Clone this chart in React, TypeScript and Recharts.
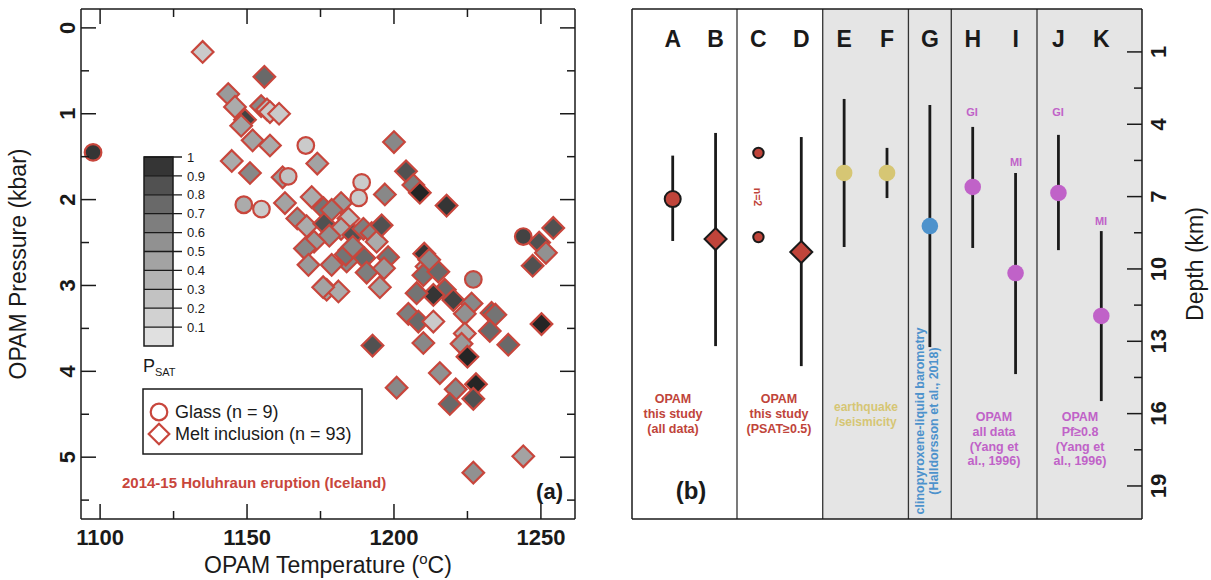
import React from "react";
import {
  ScatterChart,
  Scatter,
  XAxis,
  YAxis,
  ErrorBar,
  ReferenceArea,
  ReferenceLine,
} from "recharts";

const FONT = '"Liberation Sans", Arial, Helvetica, sans-serif';
const INK = "#1a1a1a";
const RED = "#c8463c";
const RED_FILL = "#c0443a";
const YELLOW = "#d6c674";
const BLUE = "#4d92cc";
const PURPLE = "#c062c8";
const PANEL_GRAY = "#e5e5e5";

// ---- panel (a): OPAM temperature vs pressure ----
const glassT = [1097.6, 1170.0, 1164.0, 1189.0, 1188.0, 1148.9, 1154.9, 1244.0, 1227.0];
const glassP = [1.45, 1.37, 1.73, 1.8, 1.98, 2.06, 2.11, 2.43, 2.93];
const glassPsat = [0.95, 0.2, 0.25, 0.2, 0.2, 0.4, 0.2, 0.9, 0.55];

const meltT = [
  1134.9, 1155.9, 1143.6, 1145.9, 1154.8, 1156.8, 1157.8, 1160.9, 1149.3, 1148.0,
  1151.9, 1157.8, 1200.0, 1144.8, 1151.0, 1173.9, 1162.1, 1204.1, 1206.6, 1208.8,
  1217.9, 1196.9, 1162.9, 1172.0, 1176.0, 1182.0, 1184.5, 1167.1, 1170.3, 1176.3,
  1182.0, 1178.0, 1186.2, 1189.6, 1192.4, 1194.1, 1195.8, 1172.8, 1169.7, 1184.8,
  1189.9, 1198.0, 1183.9, 1170.9, 1178.8, 1190.7, 1196.6, 1210.3, 1211.1, 1210.0,
  1215.1, 1217.3, 1213.4, 1207.7, 1220.2, 1249.4, 1254.2, 1251.7, 1247.2, 1195.2,
  1177.1, 1181.1, 1226.4, 1224.1, 1233.2, 1234.5, 1204.9, 1208.3, 1213.4, 1224.1,
  1232.6, 1250.2, 1210.0, 1192.7, 1223.0, 1238.9, 1225.0, 1215.6, 1200.9, 1221.0,
  1227.9, 1227.0, 1219.0, 1244.0, 1227.0, 1175.9, 1183.6, 1186.0, 1212.0, 1178.8,
];
const meltP = [
  0.28, 0.57, 0.77, 0.92, 0.91, 0.95, 0.98, 1.0, 1.07, 1.14,
  1.31, 1.37, 1.33, 1.55, 1.69, 1.58, 1.74, 1.67, 1.83, 1.92,
  2.07, 1.94, 2.04, 1.97, 2.1, 2.04, 2.22, 2.22, 2.31, 2.28,
  2.34, 2.42, 2.41, 2.34, 2.39, 2.49, 2.3, 2.49, 2.57, 2.59,
  2.68, 2.67, 2.72, 2.76, 2.76, 2.85, 2.8, 2.63, 2.78, 2.88,
  2.84, 3.05, 3.11, 3.09, 3.17, 2.5, 2.33, 2.62, 2.77, 3.02,
  3.05, 3.07, 3.21, 3.33, 3.32, 3.34, 3.33, 3.42, 3.42, 3.56,
  3.53, 3.45, 3.67, 3.7, 3.68, 3.69, 3.83, 4.02, 4.19, 4.21,
  4.15, 4.32, 4.38, 4.99, 5.18, 3.02, 2.64, 2.55, 2.7, 2.12,
];
const meltPsat = [
  0.2, 0.75, 0.5, 0.4, 0.6, 0.3, 0.2, 0.2, 0.9, 0.45,
  0.45, 0.4, 0.6, 0.4, 0.6, 0.45, 0.5, 0.85, 0.65, 1.0,
  0.95, 0.6, 0.45, 0.4, 0.7, 0.5, 0.3, 0.55, 0.4, 0.85,
  0.4, 0.55, 0.85, 0.65, 0.6, 0.4, 0.85, 0.5, 0.6, 0.75,
  0.75, 0.7, 0.6, 0.5, 0.55, 0.65, 0.5, 0.95, 0.4, 0.7,
  0.75, 0.75, 0.95, 0.7, 0.9, 0.85, 0.85, 0.55, 0.85, 0.45,
  0.45, 0.4, 0.6, 0.55, 0.75, 0.7, 0.65, 0.75, 0.2, 0.35,
  0.75, 1.0, 0.6, 0.85, 0.5, 0.75, 1.0, 0.55, 0.6, 0.6,
  1.0, 0.85, 0.75, 0.45, 0.55, 0.45, 0.7, 0.6, 0.6, 0.6,
];

const tempTicks = [1100, 1125, 1150, 1175, 1200, 1225, 1250];
const pressTicks = [0, 0.5, 1, 1.5, 2, 2.5, 3, 3.5, 4, 4.5, 5, 5.5];
const psatLevels = [0.1, 0.2, 0.3, 0.4, 0.5, 0.6, 0.7, 0.8, 0.9, 1];

// ---- panel (b): depth ranges ----
const bCats = ["A", "B", "C", "D", "E", "F", "G", "H", "I", "J", "K"];
const bMid = [7.1, 8.76, null, 9.3, 6.02, 6.02, 8.22, 6.6, 10.17, 6.85, 11.95];
const bTop = [5.3, 4.36, null, 4.53, 2.95, 4.98, 3.2, 4.11, 6.02, 4.44, 8.43];
const bBottom = [8.84, 13.2, null, 14.03, 9.09, 7.06, 13.24, 9.13, 14.36, 9.22, 15.48];
const cDepths = [5.19, 8.68];
const depthTicks = [1, 2.5, 4, 5.5, 7, 8.5, 10, 11.5, 13, 14.5, 16, 17.5, 19];

type MarkerStyle = { shape: "circle" | "diamond"; fill: string; stroke?: string; size: number };
const bMarker: Record<string, MarkerStyle> = {
  A: { shape: "circle", fill: RED_FILL, stroke: INK, size: 8 },
  B: { shape: "diamond", fill: RED_FILL, stroke: INK, size: 11 },
  C: { shape: "circle", fill: RED_FILL, stroke: INK, size: 5.2 },
  D: { shape: "diamond", fill: RED_FILL, stroke: INK, size: 11 },
  E: { shape: "circle", fill: YELLOW, size: 8.3 },
  F: { shape: "circle", fill: YELLOW, size: 8.3 },
  G: { shape: "circle", fill: BLUE, size: 8.3 },
  H: { shape: "circle", fill: PURPLE, size: 8.3 },
  I: { shape: "circle", fill: PURPLE, size: 8.3 },
  J: { shape: "circle", fill: PURPLE, size: 8.3 },
  K: { shape: "circle", fill: PURPLE, size: 8.3 },
};

// P_SAT -> grey fill (light for low saturation, near-black at 1)
const gray = (p: number) => {
  const v = Math.round(232 - 150 * p - 45 * Math.pow(p, 4));
  return `rgb(${v},${v},${v})`;
};

const diamondPath = (cx: number, cy: number, h: number) =>
  `M${cx},${cy - h}L${cx + h},${cy}L${cx},${cy + h}L${cx - h},${cy}Z`;

const txt = { fontFamily: FONT, fill: INK } as const;

// ---- tick renderers (inward ticks, labels outside) ----
const TempBottomTick = ({ x, y, payload }: any) => {
  const major = payload.value % 50 === 0;
  return (
    <g>
      <line x1={x} x2={x} y1={y} y2={y - (major ? 15 : 8)} stroke={INK} strokeWidth={1.5} />
      {major && (
        <text x={x} y={y + 26} textAnchor="middle" fontSize={22} fontWeight="bold" {...txt}>
          {payload.value}
        </text>
      )}
    </g>
  );
};
const TempTopTick = ({ x, y, payload }: any) => {
  const major = payload.value % 50 === 0;
  return <line x1={x} x2={x} y1={y} y2={y + (major ? 15 : 8)} stroke={INK} strokeWidth={1.5} />;
};
const PressLeftTick = ({ x, y, payload }: any) => {
  const major = Number.isInteger(payload.value);
  return (
    <g>
      <line x1={x} x2={x + (major ? 15 : 8)} y1={y} y2={y} stroke={INK} strokeWidth={1.5} />
      {major && (
        <text
          transform={`translate(${x - 14},${y}) rotate(-90)`}
          textAnchor="middle"
          dy="0.36em"
          fontSize={22}
          fontWeight="bold"
          {...txt}
        >
          {payload.value}
        </text>
      )}
    </g>
  );
};
const PressRightTick = ({ x, y, payload }: any) => {
  const major = Number.isInteger(payload.value);
  return <line x1={x} x2={x - (major ? 15 : 8)} y1={y} y2={y} stroke={INK} strokeWidth={1.5} />;
};
const LetterTick = ({ x, y, payload }: any) => (
  <text x={x} y={y + 38} textAnchor="middle" fontSize={23} fontWeight="bold" {...txt}>
    {bCats[payload.value - 1]}
  </text>
);
const DepthTick = ({ x, y, payload }: any) => {
  const major = (payload.value - 1) % 3 === 0;
  return (
    <g>
      <line x1={x} x2={x - (major ? 15 : 8)} y1={y} y2={y} stroke={INK} strokeWidth={1.5} />
      {major && (
        <text
          transform={`translate(${x + 16},${y}) rotate(-90)`}
          textAnchor="middle"
          dy="0.36em"
          fontSize={22}
          fontWeight="bold"
          {...txt}
        >
          {payload.value}
        </text>
      )}
    </g>
  );
};
const NoTick = () => <g />;

const axisLine = { stroke: INK, strokeWidth: 1.5 };

export default function App() {
  const glass = glassT.map((t, i) => ({ t, p: glassP[i], psat: glassPsat[i] }));
  const melt = meltT.map((t, i) => ({ t, p: meltP[i], psat: meltPsat[i] }));

  const bRows = bCats
    .map((cat, i) => ({
      cat,
      x: i + 1,
      y: bMid[i],
      err: bMid[i] == null ? null : [bMid[i]! - bTop[i]!, bBottom[i]! - bMid[i]!],
    }))
    .filter((r) => r.y != null);
  const cRows = cDepths.map((d) => ({ cat: "C", x: 3, y: d }));

  const bShape = (props: any) => {
    const { cx, cy, payload } = props;
    const s = bMarker[payload.cat];
    if (s.shape === "diamond")
      return <path d={diamondPath(cx, cy, s.size)} fill={s.fill} stroke={s.stroke} strokeWidth={2} />;
    return <circle cx={cx} cy={cy} r={s.size} fill={s.fill} stroke={s.stroke ?? "none"} strokeWidth={s.stroke ? 2 : 0} />;
  };

  return (
    <div
      style={{
        position: "absolute",
        left: 0,
        top: 0,
        width: 1211,
        height: 580,
        background: "#fff",
        overflow: "hidden",
        fontFamily: FONT,
      }}
    >
      {/* panel (a) */}
      <div style={{ position: "absolute", left: 0, top: 0 }}>
        <ScatterChart width={600} height={580} margin={{ top: 8, right: 24, bottom: 30, left: 41 }}>
          <XAxis
            xAxisId="b"
            type="number"
            dataKey="t"
            orientation="bottom"
            domain={[1093.5, 1261.6]}
            allowDataOverflow
            ticks={tempTicks}
            interval={0}
            height={31}
            tickSize={0}
            tickMargin={0}
            tickLine={false}
            axisLine={axisLine}
            tick={TempBottomTick}
          />
          <XAxis
            xAxisId="t"
            type="number"
            dataKey="t"
            orientation="top"
            domain={[1093.5, 1261.6]}
            allowDataOverflow
            ticks={tempTicks}
            interval={0}
            height={1}
            tickSize={0}
            tickMargin={0}
            tickLine={false}
            axisLine={axisLine}
            tick={TempTopTick}
          />
          <YAxis
            yAxisId="l"
            type="number"
            dataKey="p"
            reversed
            domain={[-0.22, 5.72]}
            allowDataOverflow
            ticks={pressTicks}
            interval={0}
            width={40}
            tickSize={0}
            tickMargin={0}
            tickLine={false}
            axisLine={axisLine}
            tick={PressLeftTick}
          />
          <YAxis
            yAxisId="r"
            orientation="right"
            type="number"
            dataKey="p"
            reversed
            domain={[-0.22, 5.72]}
            allowDataOverflow
            ticks={pressTicks}
            interval={0}
            width={1}
            tickSize={0}
            tickMargin={0}
            tickLine={false}
            axisLine={axisLine}
            tick={PressRightTick}
          />
          <Scatter
            data={melt}
            xAxisId="b"
            yAxisId="l"
            isAnimationActive={false}
            shape={(p: any) => (
              <path d={diamondPath(p.cx, p.cy, 10.8)} fill={gray(p.payload.psat)} stroke={RED} strokeWidth={2.2} />
            )}
          />
          <Scatter
            data={glass}
            xAxisId="b"
            yAxisId="l"
            isAnimationActive={false}
            shape={(p: any) => (
              <circle cx={p.cx} cy={p.cy} r={8.3} fill={gray(p.payload.psat)} stroke={RED} strokeWidth={2.2} />
            )}
          />
        </ScatterChart>
      </div>

      {/* panel (b) */}
      <div style={{ position: "absolute", left: 600, top: 0 }}>
        <ScatterChart width={611} height={580} margin={{ top: 8, right: 68, bottom: 60, left: 31 }}>
          <XAxis
            xAxisId="top"
            type="number"
            dataKey="x"
            orientation="top"
            domain={[0.05, 11.95]}
            allowDataOverflow
            ticks={bCats.map((_, i) => i + 1)}
            interval={0}
            height={1}
            tickSize={0}
            tickMargin={0}
            tickLine={false}
            axisLine={axisLine}
            tick={LetterTick}
          />
          <XAxis
            xAxisId="bot"
            type="number"
            orientation="bottom"
            domain={[0.05, 11.95]}
            allowDataOverflow
            height={1}
            tickSize={0}
            tickLine={false}
            axisLine={axisLine}
            tick={NoTick}
          />
          <YAxis
            yAxisId="right"
            orientation="right"
            type="number"
            dataKey="y"
            reversed
            domain={[-0.78, 20.37]}
            allowDataOverflow
            ticks={depthTicks}
            interval={0}
            width={1}
            tickSize={0}
            tickMargin={0}
            tickLine={false}
            axisLine={axisLine}
            tick={DepthTick}
          />
          <YAxis
            yAxisId="left"
            orientation="left"
            type="number"
            reversed
            domain={[-0.78, 20.37]}
            allowDataOverflow
            width={1}
            tickSize={0}
            tickLine={false}
            axisLine={axisLine}
            tick={NoTick}
          />
          <ReferenceArea
            xAxisId="top"
            yAxisId="right"
            x1={4.5}
            x2={11.95}
            fill={PANEL_GRAY}
            fillOpacity={1}
            stroke="none"
          />
          {[2.5, 4.5, 6.5, 7.5, 9.5].map((v) => (
            <ReferenceLine key={v} xAxisId="top" yAxisId="right" x={v} stroke="#333" strokeWidth={1.3} />
          ))}
          <Scatter data={bRows} xAxisId="top" yAxisId="right" isAnimationActive={false} shape={() => <g />}>
            <ErrorBar dataKey="err" direction="y" width={0} stroke={INK} strokeWidth={2.8} />
          </Scatter>
          <Scatter data={bRows} xAxisId="top" yAxisId="right" isAnimationActive={false} shape={bShape} />
          <Scatter data={cRows} xAxisId="top" yAxisId="right" isAnimationActive={false} shape={bShape} />
        </ScatterChart>
      </div>

      {/* annotations */}
      <svg width={1211} height={580} style={{ position: "absolute", left: 0, top: 0, pointerEvents: "none" }}>
        {/* axis titles */}
        <text x={328} y={573} textAnchor="middle" fontSize={23} {...txt}>
          OPAM Temperature (
          <tspan dy={-9} fontSize={15}>
            o
          </tspan>
          <tspan dy={9}>C)</tspan>
        </text>
        <text transform="translate(18,264) rotate(-90)" textAnchor="middle" dy="0.36em" fontSize={23} {...txt}>
          OPAM Pressure (kbar)
        </text>
        <text transform="translate(1195,264) rotate(-90)" textAnchor="middle" dy="0.36em" fontSize={23} {...txt}>
          Depth (km)
        </text>

        {/* P_SAT colour bar */}
        {psatLevels.map((lv) => (
          <rect key={lv} x={144} y={346 - lv * 189} width={29} height={18.9} fill={gray(lv - 0.05)} />
        ))}
        <rect x={144} y={157} width={29} height={189} fill="none" stroke={INK} strokeWidth={1.5} />
        {psatLevels.map((lv) => (
          <g key={`t${lv}`}>
            <line x1={144} x2={182} y1={346 - lv * 189} y2={346 - lv * 189} stroke={INK} strokeWidth={1.3} />
            <text x={187} y={346 - lv * 189} dy="0.36em" fontSize={13} {...txt}>
              {lv === 1 ? "1" : lv.toFixed(1)}
            </text>
          </g>
        ))}
        <text x={143} y={372} fontSize={18} {...txt}>
          P<tspan fontSize={11} dy={4}>SAT</tspan>
        </text>

        {/* legend */}
        <rect x={143} y={389} width={219} height={65} fill="#fff" stroke={INK} strokeWidth={1.5} />
        <circle cx={159} cy={412} r={8.3} fill="none" stroke={RED} strokeWidth={2.2} />
        <path d={diamondPath(159, 434, 10.3)} fill="none" stroke={RED} strokeWidth={2.2} />
        <text x={175} y={412} dy="0.36em" fontSize={18} {...txt}>
          Glass (n = 9)
        </text>
        <text x={175} y={434} dy="0.36em" fontSize={18} {...txt}>
          Melt inclusion (n = 93)
        </text>
        <text x={122} y={488} fontSize={15} fontWeight="bold" fontFamily={FONT} fill={RED}>
          2014-15 Holuhraun eruption (Iceland)
        </text>
        <text x={563} y={499} textAnchor="end" fontSize={22} fontWeight="bold" {...txt}>
          (a)
        </text>

        {/* panel (b) labels */}
        <text transform="translate(758,197) rotate(90)" textAnchor="middle" dy="0.36em" fontSize={10.5} fontWeight="bold" fontFamily={FONT} fill={RED_FILL}>
          n=2
        </text>
        {[
          [673, ["OPAM", "this study", "(all data)"]],
          [779, ["OPAM", "this study", "(PSAT≥0.5)"]],
        ].map(([cx, lines]: any) => (
          <text key={cx} x={cx} y={403} textAnchor="middle" fontSize={12.5} fontWeight="bold" fontFamily={FONT} fill={RED_FILL}>
            {lines.map((l: string, i: number) => (
              <tspan key={i} x={cx} dy={i === 0 ? 0 : 14.8}>
                {l}
              </tspan>
            ))}
          </text>
        ))}
        <text x={866} y={411} textAnchor="middle" fontSize={12} fontWeight="bold" fontFamily={FONT} fill={YELLOW}>
          <tspan x={866}>earthquake</tspan>
          <tspan x={866} dy={14.5}>
            /seismicity
          </tspan>
        </text>
        <text transform="translate(919,421) rotate(-90)" textAnchor="middle" dy="0.36em" fontSize={12.5} fontWeight="bold" fontFamily={FONT} fill={BLUE}>
          clinopyroxene-liquid barometry
        </text>
        <text transform="translate(933,421) rotate(-90)" textAnchor="middle" dy="0.36em" fontSize={12.5} fontWeight="bold" fontFamily={FONT} fill={BLUE}>
          (Halldorsson et al., 2018)
        </text>
        {[
          [994, ["OPAM", "all data", "(Yang et", "al., 1996)"]],
          [1080, ["OPAM", "Pf≥0.8", "(Yang et", "al., 1996)"]],
        ].map(([cx, lines]: any) => (
          <text key={cx} x={cx} y={421} textAnchor="middle" fontSize={12.5} fontWeight="bold" fontFamily={FONT} fill={PURPLE}>
            {lines.map((l: string, i: number) => (
              <tspan key={i} x={cx} dy={i === 0 ? 0 : 14.8}>
                {l}
              </tspan>
            ))}
          </text>
        ))}
        {[
          [972, 112, "GI"],
          [1016, 162, "MI"],
          [1058, 112, "GI"],
          [1101, 221, "MI"],
        ].map(([x, y, s]: any) => (
          <text key={`${x}`} x={x} y={y} dy="0.36em" textAnchor="middle" fontSize={11} fontWeight="bold" fontFamily={FONT} fill={PURPLE}>
            {s}
          </text>
        ))}
        <text x={691} y={499} textAnchor="middle" fontSize={24} fontWeight="bold" {...txt}>
          (b)
        </text>
      </svg>
    </div>
  );
}
